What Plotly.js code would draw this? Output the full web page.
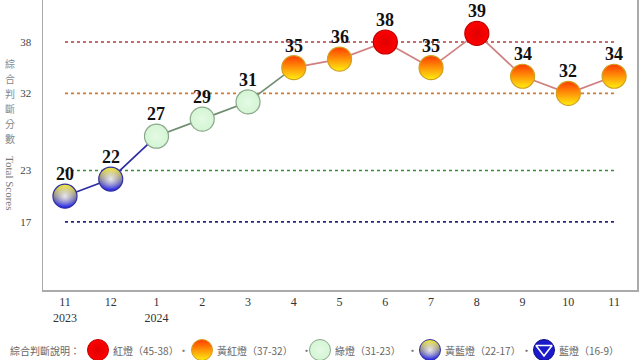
<!DOCTYPE html>
<html><head><meta charset="utf-8">
<script src="https://cdn.plot.ly/plotly-3.0.1.min.js"></script>
<style>html,body{margin:0;padding:0;background:#fff}#chart{width:640px;height:360px}</style>
</head><body><div id="chart"></div>
<script>
// ---- data ----
const months = ['11<br>2023','12','1<br>2024','2','3','4','5','6','7','8','9','10','11'];
const scores = [20,22,27,29,31,35,36,38,35,39,34,32,34];
const thresholds = [38,32,23,17];
const thresholdColors = ['#b83838','#d07a30','#3a8a3a','#262680'];
const legendLabels = ['紅燈（45-38）','黃紅燈（37-32）','綠燈（31-23）','黃藍燈（22-17）','藍燈（16-9）'];
const legendPrefix = '綜合判斷說明：';
const yTitleZh = '綜合判斷分數';
const yTitleEn = 'Total Scores';

// signal category from score
function cat(s){ if(s>=38) return 0; if(s>=32) return 1; if(s>=23) return 2; if(s>=17) return 3; return 4; }

// vertical gradient: color = top, grad = bottom
const catStyle = [
  {color:'#ff0000', grad:'#e00000', gtype:'radial', line:'#c00000', seg:'#d08080'},
  {color:'#ff3a00', grad:'#ffee10', gtype:'vertical', line:'#d0a020', seg:'#d08080'},
  {color:'#d4f5d4', grad:'#e4fae4', gtype:'radial', line:'#8aa88a', seg:'#6e8c6e'},
  {color:'#f8ee30', grad:'#2020f4', gtype:'vertical', line:'#3030a0', seg:'#2c2ca0'},
  {color:'#1a1acc', grad:'#1a1acc', gtype:'none', line:'#101080', seg:'#2c2ca0'}
];

const xs = months.map((m,i)=>i);
const traces = [];

// threshold dotted lines
thresholds.forEach((t,k)=>{
  traces.push({x:[xs[0], xs[xs.length-1]], y:[t,t], mode:'lines', hoverinfo:'skip',
    line:{color:thresholdColors[k], width:1.6, dash:'dot'}, showlegend:false});
});

// connecting segments colored by starting point
for(let i=0;i<scores.length-1;i++){
  traces.push({x:[xs[i],xs[i+1]], y:[scores[i],scores[i+1]], mode:'lines', hoverinfo:'skip',
    line:{color:catStyle[cat(scores[i])].seg, width:1.7}, showlegend:false});
}

// markers per category
for(let c=0;c<5;c++){
  const px=[], py=[];
  scores.forEach((s,i)=>{ if(cat(s)===c){px.push(xs[i]); py.push(s);} });
  if(!px.length) continue;
  const st = catStyle[c];
  traces.push({x:px, y:py, mode:'markers', hoverinfo:'skip',
    marker:{size:24, color:st.color, gradient:{type:st.gtype, color:st.grad}, line:{color:st.line, width:1.2}},
    showlegend:false, cliponaxis:false});
  if(c===3){ // white highlight in the middle of yellow-blue lamps
    traces.push({x:px, y:py, mode:'markers', hoverinfo:'skip',
      marker:{size:22, color:'rgba(255,255,255,0)', gradient:{type:'radial', color:'rgba(255,255,255,0.8)'}, line:{width:0}},
      showlegend:false, cliponaxis:false});
  }
}

// legend markers on a pixel-space overlay axis
const legMx = [98, 202, 320, 430, 544];
const legTx = [111, 215, 333, 443, 557];
const sepX = [183, 306, 412, 526];
for(let c=0;c<5;c++){
  const st = catStyle[c];
  traces.push({x:[legMx[c]], y:[350], xaxis:'x2', yaxis:'y2', mode:'markers', hoverinfo:'skip',
    marker:{size:21, color:st.color, gradient:{type:st.gtype, color:st.grad}, line:{color:st.line, width:1}},
    showlegend:false});
  if(c===3){
    traces.push({x:[legMx[c]], y:[350], xaxis:'x2', yaxis:'y2', mode:'markers', hoverinfo:'skip',
      marker:{size:19, color:'rgba(255,255,255,0)', gradient:{type:'radial', color:'rgba(255,255,255,0.8)'}, line:{width:0}},
      showlegend:false});
  }
}
traces.push({x:[legMx[4]], y:[349], xaxis:'x2', yaxis:'y2', mode:'markers', hoverinfo:'skip',
  marker:{size:14, symbol:'triangle-down-open', color:'#ffffff', line:{color:'#ffffff', width:1.6}}, showlegend:false});

const annotations = [];
// value labels above points
scores.forEach((s,i)=>{
  annotations.push({xref:'x', yref:'y', x:xs[i], y:s, text:String(s), showarrow:false, yshift:22, xanchor:'center', yanchor:'middle',
    font:{family:'Liberation Serif, Times New Roman, serif', size:18, color:'#111', weight:'bold'}});
});
const legFont = {family:'Noto Sans CJK TC, sans-serif', size:10, color:'#666'};
annotations.push({xref:'x2', yref:'y2', x:8, y:350, text:legendPrefix, showarrow:false, xanchor:'left', yanchor:'middle', font:legFont});
legendLabels.forEach((l,c)=>{
  annotations.push({xref:'x2', yref:'y2', x:legTx[c], y:350, text:l, showarrow:false, xanchor:'left', yanchor:'middle', font:legFont});
});
sepX.forEach(sx=>{
  annotations.push({xref:'x2', yref:'y2', x:sx, y:350, text:'·', showarrow:false, xanchor:'center', yanchor:'middle', font:{family:'Noto Sans CJK TC, sans-serif', size:11, color:'#777'}});
});
// y-axis titles: stacked upright Chinese characters, then rotated English
Array.from(yTitleZh).forEach((ch,k)=>{
  annotations.push({xref:'x2', yref:'y2', x:10, y:63 + k*15, text:ch, showarrow:false, xanchor:'center', yanchor:'middle', borderpad:0,
    font:{family:'Noto Sans CJK TC, sans-serif', size:10, color:'#888'}});
});
annotations.push({xref:'x2', yref:'y2', x:10, y:183, text:yTitleEn, textangle:90, showarrow:false, xanchor:'center', yanchor:'middle',
  font:{family:'Liberation Serif, Times New Roman, serif', size:11, color:'#777'}});

const layout = {
  width:640, height:360, margin:{l:0,r:0,t:0,b:0}, paper_bgcolor:'#fff', plot_bgcolor:'rgba(0,0,0,0)',
  showlegend:false,
  xaxis:{domain:[43/640, 637/640], range:[-0.48, 12.5], tickvals:xs, ticktext:months, showgrid:false, zeroline:false,
    showline:true, linecolor:'#aaaaaa', linewidth:1.5, ticks:'', tickfont:{family:'Liberation Serif, Times New Roman, serif', size:12, color:'#333'}},
  yaxis:{domain:[70/360, 1], range:[9.05, 42.9], tickvals:thresholds, showgrid:false, zeroline:false,
    showline:true, mirror:true, linecolor:'#aaaaaa', linewidth:1.5, ticks:'', ticklabelstandoff:8,
    tickfont:{family:'Liberation Serif, Times New Roman, serif', size:11, color:'#444'}},
  xaxis2:{domain:[0,1], range:[0,640], visible:false, anchor:'y2', fixedrange:true},
  yaxis2:{domain:[0,1], range:[360,0], visible:false, anchor:'x2', fixedrange:true},
  annotations:annotations
};
Plotly.newPlot('chart', traces, layout, {staticPlot:true, displayModeBar:false});
</script></body></html>
